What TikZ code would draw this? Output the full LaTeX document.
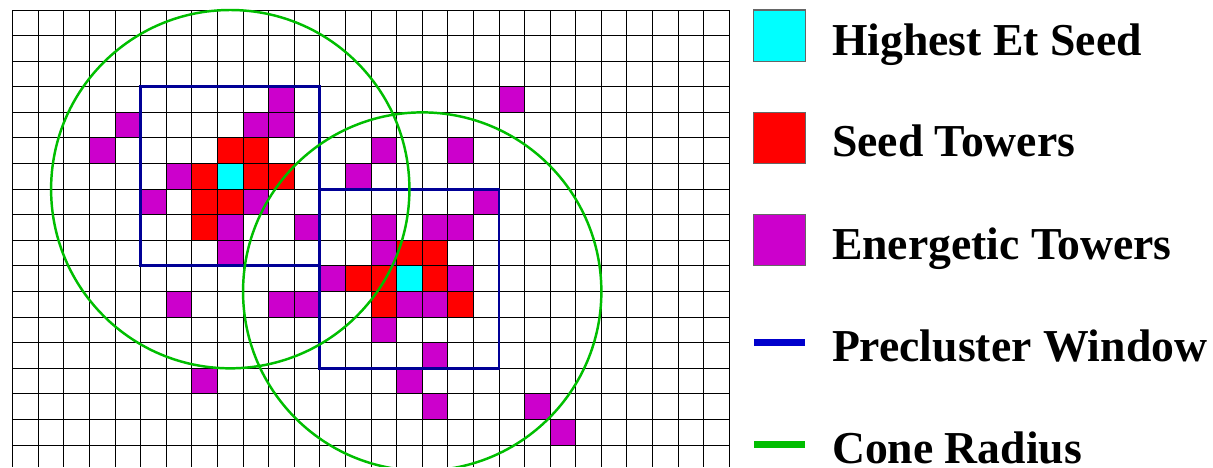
\documentclass[tikz,border=0pt]{standalone}
\usepackage{fontspec}
\setmainfont{Liberation Serif}
\definecolor{seedcyan}{RGB}{0,255,255}
\definecolor{seedred}{RGB}{255,0,0}
\definecolor{energmag}{RGB}{204,0,204}
\definecolor{winnavy}{RGB}{0,0,150}
\definecolor{legblue}{RGB}{0,0,204}
\definecolor{conegreen}{RGB}{0,190,0}
\tikzset{
  gridl/.style={draw=black, line width=0.55pt},
  hiseed/.style={fill=seedcyan},
  seedt/.style={fill=seedred},
  energt/.style={fill=energmag},
  precl/.style={draw=winnavy, line width=1.7pt},
  cone/.style={draw=conegreen, line width=1.4pt},
  legbox/.style={draw=black!60, line width=0.6pt},
  legtext/.style={anchor=base west, inner sep=0pt, font=\fontsize{26}{30}\selectfont\bfseries},
}
\begin{document}
\begin{tikzpicture}[x=0.02cm,y=-0.02cm]
\useasboundingbox (0,0) rectangle (1213,467);
\fill[white] (0,0) rectangle (1213,467);
\begin{scope}[shift={(12.7,10)},x=0.512cm,y=-0.512cm]
  \clip (-0.1,-0.1) rectangle (28.2,17.85);
  % energetic towers
  \foreach \c/\r in {10/3,4/4,9/4,10/4,3/5,6/6,5/7,9/7,8/8,11/8,14/8,16/8,17/8,8/9,14/9,
                     6/11,10/11,11/11,14/12,7/14,19/3,14/5,17/5,13/6,18/7,14/5,
                     12/10,17/10,15/11,16/11,16/13,15/14,16/15,20/15,21/16}
    \fill[energt] (\c,\r) rectangle ++(1,1);
  % seed towers
  \foreach \c/\r in {8/5,9/5,7/6,9/6,10/6,7/7,8/7,7/8,
                     15/9,16/9,13/10,14/10,16/10,14/11,17/11}
    \fill[seedt] (\c,\r) rectangle ++(1,1);
  % highest Et seeds
  \foreach \c/\r in {8/6,15/10}
    \fill[hiseed] (\c,\r) rectangle ++(1,1);
  % grid
  \foreach \i in {0,...,28} \draw[gridl] (\i,0) -- (\i,18);
  \foreach \j in {0,...,18} \draw[gridl] (0,\j) -- (28,\j);
  % precluster windows
  \draw[precl] (5,3) rectangle (12,10);
  \draw[precl] (12,7) rectangle (19,14);
  % cone radii
  \draw[cone] (8.5,7) circle[radius=7];
  \draw[cone] (16,11) circle[radius=7];
\end{scope}
% legend
\draw[legbox, fill=seedcyan] (753.7,10) rectangle (805.3,61.3);
\draw[legbox, fill=seedred] (753.7,112.7) rectangle (805.3,163.3);
\draw[legbox, fill=energmag] (753.7,214.3) rectangle (805.3,265.7);
\fill[legblue] (753.7,339.2) rectangle (805.3,346.2);
\fill[conegreen] (753.7,440.8) rectangle (805.3,447.8);
\node[legtext] (t1) at (831.7,55) {Highest Et Seed};
\node[legtext] (t2) at (831.7,156.7) {Seed Towers};
\node[legtext] (t3) at (831.7,259.3) {Energetic Towers};
\node[legtext] (t4) at (831.7,361.7) {Precluster Window};
\node[legtext] (t5) at (831.7,463.3) {Cone Radius};
\end{tikzpicture}
\end{document}
